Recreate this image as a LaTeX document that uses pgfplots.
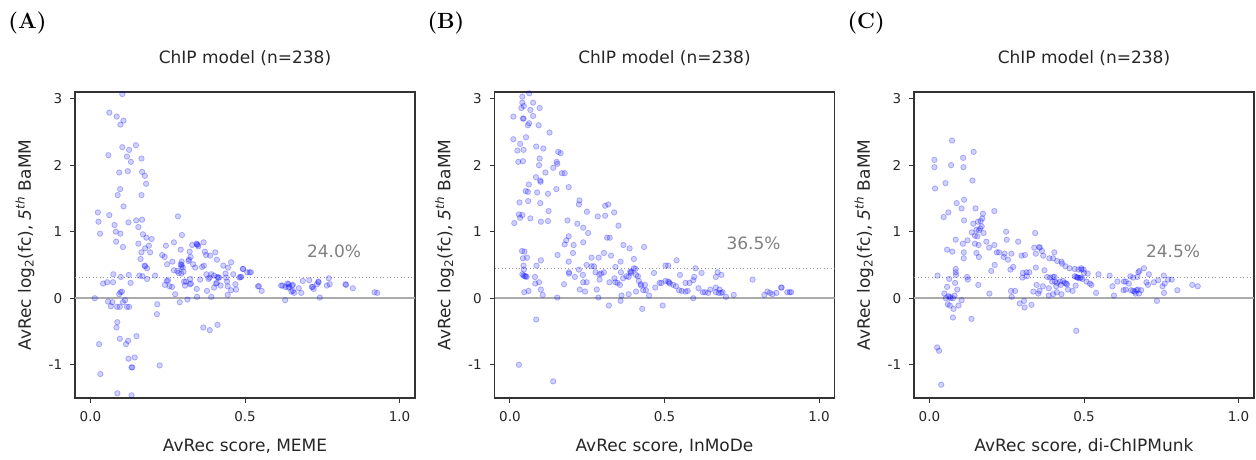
\documentclass[border=0pt]{standalone}
\usepackage{fontspec}
\setmainfont{DejaVu Sans}
\usepackage{pgfplots}
\usepackage{pgfplotstable}
\pgfplotsset{compat=1.18}
\definecolor{axcol}{HTML}{333333}
\definecolor{tickcol}{HTML}{262626}
\definecolor{annocol}{HTML}{808080}
\definecolor{zerocol}{HTML}{ABABAB}
\definecolor{dotcol}{HTML}{999999}
\pgfplotsset{
  panel/.style={
    width=340pt, height=306pt, scale only axis, anchor=south west,
    xmin=-0.05, xmax=1.05, ymin=-1.5, ymax=3.1,
    xtick={0,0.5,1}, xticklabels={0.0,0.5,1.0},
    ytick={-1,0,1,2,3}, yticklabels={-1,0,1,2,3},
    tick pos=left, tick align=outside, major tick length=5pt,
    every tick/.style={color=axcol, line width=1pt},
    axis line style={color=axcol, line width=1.25pt},
    tick label style={font=\fontsize{13.5}{16}\selectfont, text=tickcol},
    yticklabel style={inner sep=0pt, xshift=-7.7pt},
    xticklabel style={inner sep=0pt, yshift=-8pt},
    label style={font=\fontsize{17}{20}\selectfont, text=tickcol},
    title style={font=\fontsize{17}{20}\selectfont, text=tickcol, at={(axis description cs:0.5,1.075)}, anchor=base, inner sep=0pt},
    xlabel style={at={(axis description cs:0.5,-0.1755)}, anchor=base, inner sep=0pt},
    ylabel style={at={(axis description cs:-0.130,0.5)}, anchor=base, inner sep=0pt},
    ylabel={AvRec log\textsubscript{2}(fc), \textit{5}\textsuperscript{\textit{th}} BaMM},
    title={ChIP model (n=238)},
  },
  pts/.style={only marks, mark=*, mark size=2.7pt,
    mark options={draw=blue, fill=blue, draw opacity=0.27, fill opacity=0.18, line width=0.8pt}},
}
\newcommand{\annot}[3]{\node[anchor=base west, text=annocol, inner sep=0pt, font=\fontsize{17}{20}\selectfont] at (axis cs:#1,#2) {#3};}
\newcommand{\panellabel}[3]{\node[anchor=base west, inner sep=0pt, font=\fontsize{22}{24}\usefont{TU}{lmr}{bx}{n}] at (#1,#2) {#3};}

\pgfplotstableread{
x y
0.103 3.07
0.061 2.79
0.085 2.73
0.107 2.67
0.097 2.61
0.103 2.27
0.147 2.30
0.125 2.23
0.058 2.15
0.118 2.13
0.131 2.05
0.165 2.10
0.093 1.89
0.121 1.91
0.167 1.90
0.176 1.84
0.180 1.72
0.096 1.64
0.088 1.55
0.165 1.55
0.107 1.38
0.024 1.29
0.026 1.15
0.061 1.25
0.031 0.97
0.123 1.14
0.148 1.17
0.167 1.18
0.078 1.10
0.082 1.00
0.097 0.97
0.155 1.07
0.083 0.85
0.105 0.77
0.170 0.96
0.181 0.91
0.198 0.89
0.155 0.82
0.189 0.79
0.177 0.75
0.165 0.69
0.193 0.69
0.162 0.59
0.175 0.49
0.177 0.48
0.183 0.45
0.283 1.23
0.296 0.95
0.270 0.84
0.244 0.79
0.292 0.73
0.232 0.65
0.240 0.62
0.248 0.51
0.265 0.55
0.295 0.55
0.295 0.50
0.294 0.47
0.299 0.46
0.292 0.51
0.281 0.41
0.301 0.40
0.270 0.42
0.294 0.37
0.285 0.38
0.321 0.70
0.324 0.62
0.319 0.58
0.317 0.56
0.329 0.80
0.343 0.82
0.345 0.81
0.349 0.78
0.347 0.80
0.366 0.84
0.370 0.70
0.374 0.65
0.387 0.64
0.404 0.69
0.409 0.58
0.430 0.49
0.445 0.46
0.455 0.54
0.493 0.44
0.507 0.39
0.515 0.39
0.332 0.51
0.339 0.46
0.361 0.47
0.367 0.49
0.355 0.28
0.323 0.29
0.325 0.22
0.322 0.21
0.309 0.25
0.306 0.19
0.303 0.25
0.344 0.14
0.345 0.02
0.314 -0.02
0.289 -0.06
0.274 0.06
0.264 0.17
0.256 0.18
0.241 0.20
0.247 0.26
0.251 0.27
0.375 0.36
0.391 0.36
0.385 0.31
0.400 0.34
0.410 0.32
0.414 0.31
0.416 0.31
0.382 0.29
0.400 0.16
0.406 0.22
0.421 0.19
0.409 0.23
0.377 0.11
0.391 0.02
0.437 0.37
0.439 0.31
0.442 0.25
0.444 0.18
0.444 0.05
0.455 0.12
0.462 0.36
0.469 0.21
0.471 0.13
0.485 0.32
0.482 0.31
0.365 -0.44
0.386 -0.48
0.411 -0.40
0.074 0.36
0.041 0.22
0.054 0.24
0.073 0.24
0.124 0.35
0.098 0.32
0.158 0.34
0.168 0.33
0.183 0.29
0.209 0.34
0.130 0.23
0.097 0.09
0.093 0.06
0.102 0.10
0.014 0.00
0.057 -0.05
0.066 -0.12
0.071 -0.06
0.086 -0.13
0.095 -0.13
0.105 -0.06
0.112 -0.03
0.118 -0.13
0.125 -0.13
0.216 -0.09
0.215 -0.24
0.087 -0.36
0.084 -0.44
0.095 -0.61
0.122 -0.64
0.115 -0.69
0.149 -0.57
0.028 -0.69
0.123 -0.91
0.143 -0.89
0.133 -1.04
0.135 -1.04
0.224 -1.01
0.032 -1.14
0.087 -1.43
0.133 -1.46
0.494 0.44
0.519 0.39
0.488 0.32
0.542 0.18
0.545 0.18
0.554 0.11
0.617 0.19
0.621 0.19
0.631 0.17
0.637 0.22
0.641 0.21
0.640 0.16
0.643 0.17
0.652 0.19
0.655 0.20
0.655 0.11
0.659 0.08
0.650 0.10
0.674 0.15
0.682 0.08
0.630 -0.03
0.687 0.26
0.708 0.27
0.719 0.17
0.716 0.17
0.722 0.14
0.733 0.21
0.737 0.25
0.738 0.24
0.742 0.01
0.765 0.19
0.774 0.21
0.771 0.30
0.825 0.21
0.827 0.20
0.849 0.15
0.919 0.09
0.928 0.08
}\dataA

\pgfplotstableread{
x y
0.0625 3.08
0.040 3.03
0.040 2.94
0.045 2.89
0.075 2.94
0.037 2.86
0.066 2.83
0.096 2.86
0.011 2.73
0.042 2.70
0.044 2.70
0.075 2.74
0.062 2.63
0.058 2.60
0.093 2.60
0.128 2.49
0.052 2.42
0.011 2.39
0.033 2.32
0.024 2.22
0.044 2.23
0.085 2.28
0.108 2.25
0.156 2.20
0.164 2.18
0.027 2.05
0.042 2.06
0.094 2.00
0.096 2.10
0.151 2.05
0.153 2.02
0.140 1.96
0.115 1.89
0.168 1.88
0.177 1.88
0.084 1.82
0.098 1.77
0.099 1.75
0.061 1.71
0.190 1.67
0.150 1.64
0.051 1.61
0.058 1.60
0.088 1.59
0.123 1.57
0.031 1.44
0.059 1.46
0.098 1.43
0.223 1.41
0.225 1.47
0.125 1.31
0.249 1.30
0.029 1.26
0.040 1.25
0.033 1.21
0.066 1.20
0.014 1.13
0.100 1.15
0.123 1.16
0.308 1.39
0.318 1.41
0.284 1.23
0.308 1.24
0.337 1.29
0.186 1.17
0.218 1.12
0.237 1.06
0.253 0.98
0.351 1.09
0.314 0.91
0.323 0.91
0.190 0.93
0.182 0.87
0.177 0.81
0.206 0.80
0.237 0.84
0.367 0.80
0.387 0.75
0.434 0.77
0.204 0.68
0.154 0.65
0.304 0.68
0.327 0.64
0.287 0.61
0.264 0.61
0.190 0.55
0.401 0.59
0.039 0.71
0.047 0.70
0.042 0.60
0.055 0.61
0.044 0.49
0.045 0.43
0.040 0.36
0.044 0.34
0.048 0.33
0.051 0.33
0.054 0.32
0.081 0.32
0.086 0.49
0.100 0.57
0.094 0.24
0.082 0.22
0.100 0.13
0.106 0.05
0.046 0.09
0.060 0.11
0.153 0.01
0.085 -0.32
0.029 -1.00
0.140 -1.25
0.175 0.21
0.191 0.39
0.191 0.37
0.210 0.32
0.223 0.43
0.236 0.35
0.237 0.24
0.248 0.24
0.226 0.13
0.243 0.10
0.248 0.50
0.264 0.48
0.272 0.48
0.277 0.39
0.289 0.36
0.295 0.37
0.304 0.39
0.290 0.28
0.281 0.13
0.286 0.01
0.320 -0.11
0.322 0.24
0.341 0.47
0.338 0.30
0.341 0.24
0.348 0.23
0.356 0.20
0.358 0.55
0.359 0.39
0.366 0.30
0.361 0.04
0.358 -0.04
0.377 0.33
0.384 0.32
0.384 0.06
0.389 0.40
0.393 0.40
0.391 0.38
0.401 0.45
0.406 0.44
0.408 0.35
0.414 0.33
0.417 0.26
0.423 0.21
0.424 0.19
0.437 0.20
0.431 0.12
0.440 0.12
0.408 0.10
0.428 -0.16
0.450 0.04
0.470 0.16
0.466 0.38
0.484 0.23
0.490 0.23
0.494 -0.11
0.503 0.49
0.512 0.49
0.539 0.57
0.503 0.26
0.512 0.25
0.515 0.24
0.517 0.22
0.528 0.20
0.537 0.18
0.547 0.12
0.556 0.11
0.568 0.10
0.575 0.11
0.550 0.35
0.568 0.23
0.581 0.23
0.593 0.27
0.596 0.32
0.600 0.45
0.620 0.38
0.593 0.00
0.610 0.15
0.624 0.09
0.631 0.09
0.641 0.08
0.648 0.13
0.666 0.32
0.672 0.39
0.684 0.35
0.666 0.16
0.678 0.13
0.666 0.09
0.675 0.08
0.683 0.08
0.688 0.09
0.699 0.02
0.724 0.05
0.785 0.28
0.823 0.05
0.833 0.10
0.841 0.08
0.849 0.06
0.862 0.08
0.877 0.16
0.879 0.16
0.897 0.09
0.905 0.09
0.910 0.09
}\dataB

\pgfplotstableread{
x y
0.073 2.37
0.143 2.20
0.016 2.08
0.016 1.97
0.109 2.11
0.110 1.97
0.070 2.00
0.052 1.73
0.139 1.77
0.018 1.65
0.088 1.43
0.112 1.48
0.104 1.35
0.149 1.35
0.210 1.31
0.061 1.29
0.046 1.22
0.112 1.17
0.173 1.27
0.171 1.20
0.142 1.12
0.157 1.15
0.166 1.16
0.169 1.08
0.152 1.03
0.160 1.02
0.147 0.94
0.155 0.93
0.137 0.99
0.175 0.98
0.164 1.05
0.085 0.88
0.108 0.82
0.123 0.87
0.184 0.85
0.147 0.82
0.159 0.80
0.248 1.00
0.250 0.88
0.210 0.80
0.193 0.76
0.057 0.73
0.074 0.70
0.111 0.69
0.111 0.60
0.218 0.69
0.225 0.69
0.243 0.67
0.152 0.68
0.160 0.62
0.240 0.62
0.254 0.58
0.287 0.85
0.265 0.67
0.298 0.64
0.309 0.65
0.211 0.50
0.200 0.41
0.271 0.47
0.262 0.43
0.342 0.98
0.339 0.76
0.355 0.77
0.357 0.76
0.364 0.71
0.368 0.64
0.344 0.67
0.404 0.69
0.388 0.60
0.400 0.60
0.413 0.56
0.427 0.55
0.429 0.52
0.440 0.48
0.453 0.45
0.470 0.44
0.482 0.43
0.491 0.45
0.499 0.43
0.344 0.46
0.372 0.42
0.302 0.38
0.314 0.39
0.323 0.39
0.301 0.31
0.315 0.33
0.381 0.32
0.391 0.31
0.400 0.32
0.405 0.32
0.397 0.25
0.406 0.25
0.413 0.23
0.422 0.25
0.432 0.26
0.410 0.18
0.425 0.20
0.438 0.23
0.442 0.22
0.445 0.21
0.470 0.33
0.475 0.32
0.478 0.31
0.481 0.31
0.486 0.30
0.473 0.19
0.448 0.13
0.463 0.11
0.347 0.20
0.352 0.07
0.356 0.11
0.367 0.18
0.336 0.10
0.386 0.15
0.386 0.04
0.400 0.06
0.412 0.09
0.427 0.06
0.264 0.11
0.277 0.11
0.266 0.02
0.292 -0.08
0.306 -0.04
0.308 -0.14
0.330 -0.10
0.194 0.07
0.158 0.20
0.136 -0.31
0.475 -0.49
0.076 -0.29
0.026 0.34
0.057 0.17
0.064 0.29
0.085 0.44
0.085 0.39
0.086 0.35
0.122 0.32
0.124 0.28
0.083 0.23
0.090 0.13
0.048 0.07
0.053 0.00
0.061 0.03
0.066 0.02
0.068 0.00
0.076 0.00
0.081 0.04
0.059 -0.09
0.066 -0.11
0.078 -0.16
0.094 -0.11
0.104 -0.03
0.025 -0.74
0.031 -0.79
0.038 -1.30
0.492 0.43
0.500 0.38
0.512 0.37
0.490 0.31
0.495 0.29
0.508 0.25
0.519 0.22
0.524 0.20
0.539 0.08
0.547 0.36
0.583 0.34
0.592 0.18
0.597 0.04
0.608 0.25
0.629 0.25
0.635 0.25
0.628 0.12
0.635 0.13
0.645 0.22
0.650 0.33
0.659 0.31
0.652 0.12
0.659 0.11
0.664 0.10
0.670 0.12
0.674 0.13
0.685 0.12
0.667 0.07
0.678 0.07
0.676 0.39
0.679 0.41
0.694 0.45
0.673 0.32
0.710 0.36
0.702 0.24
0.707 0.20
0.726 0.24
0.740 0.27
0.736 -0.04
0.754 0.18
0.761 0.22
0.772 0.28
0.784 0.28
0.758 0.34
0.759 0.08
0.802 0.12
0.850 0.20
0.868 0.18
}\dataC

\begin{document}
\begin{tikzpicture}[x=1pt,y=1pt]
\path[use as bounding box] (0,0) rectangle (1256,460);

\begin{axis}[panel, at={(75pt,62pt)}, xlabel={AvRec score, MEME}]
\addplot[pts] table[x=x,y=y] {\dataA};
\addplot[zerocol, line width=1.5pt] coordinates {(-0.05,0) (1.05,0)};
\addplot[dotcol, line width=1pt, dash pattern=on 1pt off 2.5pt] coordinates {(-0.05,0.305) (1.05,0.305)};
\annot{0.7}{0.616}{24.0\%}
\end{axis}

\begin{axis}[panel, at={(494.5pt,62pt)}, xlabel={AvRec score, InMoDe}]
\addplot[pts] table[x=x,y=y] {\dataB};
\addplot[zerocol, line width=1.5pt] coordinates {(-0.05,0) (1.05,0)};
\addplot[dotcol, line width=1pt, dash pattern=on 1pt off 2.5pt] coordinates {(-0.05,0.446) (1.05,0.446)};
\annot{0.7}{0.73}{36.5\%}
\end{axis}

\begin{axis}[panel, at={(914pt,62pt)}, xlabel={AvRec score, di-ChIPMunk}]
\addplot[pts] table[x=x,y=y] {\dataC};
\addplot[zerocol, line width=1.5pt] coordinates {(-0.05,0) (1.05,0)};
\addplot[dotcol, line width=1pt, dash pattern=on 1pt off 2.5pt] coordinates {(-0.05,0.316) (1.05,0.316)};
\annot{0.7}{0.616}{24.5\%}
\end{axis}

\panellabel{8.3}{431.7}{(A)}
\panellabel{427.3}{431.7}{(B)}
\panellabel{847.3}{431.7}{(C)}
\end{tikzpicture}
\end{document}
